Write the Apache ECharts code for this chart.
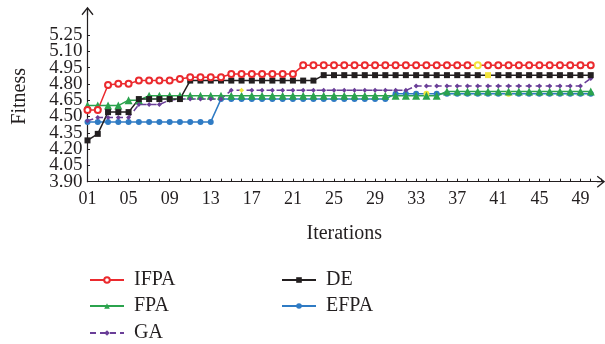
<!DOCTYPE html>
<html>
<head>
<meta charset="utf-8">
<style>
  html, body { margin: 0; padding: 0; background: #fff; }
  #chart { width: 605px; height: 344px; }
</style>
<script src="https://cdn.jsdelivr.net/npm/echarts@6/dist/echarts.min.js"></script>
</head>
<body>
<div id="chart"></div>
<script>
// iterations (51 is only there to stretch the axis out to the arrow)
var iterations = ["01","02","03","04","05","06","07","08","09","10",
  "11","12","13","14","15","16","17","18","19","20",
  "21","22","23","24","25","26","27","28","29","30",
  "31","32","33","34","35","36","37","38","39","40",
  "41","42","43","44","45","46","47","48","49","50","51"];

var yTicks = [3.90, 4.05, 4.20, 4.35, 4.50, 4.65, 4.80, 4.95, 5.10, 5.25];

var ifpa = [4.56, 4.56, 4.79, 4.80, 4.80, 4.83, 4.83, 4.83, 4.83, 4.845,
  4.86, 4.86, 4.86, 4.86, 4.89, 4.89, 4.89, 4.89, 4.89, 4.89,
  4.89, 4.97, 4.97, 4.97, 4.97, 4.97, 4.97, 4.97, 4.97, 4.97,
  4.97, 4.97, 4.97, 4.97, 4.97, 4.97, 4.97, 4.97, 4.97, 4.97,
  4.97, 4.97, 4.97, 4.97, 4.97, 4.97, 4.97, 4.97, 4.97, 4.97];

var de = [4.28, 4.34, 4.54, 4.54, 4.54, 4.66, 4.66, 4.66, 4.66, 4.66,
  4.83, 4.83, 4.83, 4.83, 4.83, 4.83, 4.83, 4.83, 4.83, 4.83,
  4.83, 4.83, 4.83, 4.88, 4.88, 4.88, 4.88, 4.88, 4.88, 4.88,
  4.88, 4.88, 4.88, 4.88, 4.88, 4.88, 4.88, 4.88, 4.88, 4.88,
  4.88, 4.88, 4.88, 4.88, 4.88, 4.88, 4.88, 4.88, 4.88, 4.88];

var fpa = [4.60, 4.60, 4.60, 4.60, 4.65, 4.65, 4.69, 4.69, 4.69, 4.69,
  4.69, 4.69, 4.69, 4.69, 4.69, 4.69, 4.69, 4.69, 4.69, 4.69,
  4.69, 4.69, 4.69, 4.69, 4.69, 4.69, 4.69, 4.69, 4.69, 4.69,
  4.69, 4.69, 4.69, 4.69, 4.69, 4.73, 4.73, 4.73, 4.73, 4.73,
  4.73, 4.73, 4.73, 4.73, 4.73, 4.73, 4.73, 4.73, 4.73, 4.73];

var efpa = [4.45, 4.45, 4.45, 4.45, 4.45, 4.45, 4.45, 4.45, 4.45, 4.45,
  4.45, 4.45, 4.45, 4.66, 4.66, 4.66, 4.66, 4.66, 4.66, 4.66,
  4.66, 4.66, 4.66, 4.66, 4.66, 4.66, 4.66, 4.66, 4.66, 4.66,
  4.71, 4.71, 4.71, 4.71, 4.71, 4.71, 4.71, 4.71, 4.71, 4.71,
  4.71, 4.71, 4.71, 4.71, 4.71, 4.71, 4.71, 4.71, 4.71, 4.71];

var ga = [4.46, 4.49, 4.49, 4.49, 4.49, 4.61, 4.61, 4.61, 4.65, 4.66,
  4.66, 4.66, 4.66, 4.66, 4.74, 4.74, 4.74, 4.74, 4.74, 4.74,
  4.74, 4.74, 4.74, 4.74, 4.74, 4.74, 4.74, 4.74, 4.74, 4.74,
  4.74, 4.74, 4.78, 4.78, 4.78, 4.78, 4.78, 4.78, 4.78, 4.78,
  4.78, 4.78, 4.78, 4.78, 4.78, 4.78, 4.78, 4.78, 4.78, 4.85];

// the few points that show up yellow in the figure (iteration numbers)
var yellowAt = { IFPA: [39], DE: [40], EFPA: [34, 42], GA: [16] };

var serif = "'Liberation Serif', 'DejaVu Serif', serif";
var ink = "#231f20";
var yellow = "#f3e53c";
var arrow = "path://M6,0 L12,7.5 L11,8.3 L6.6,2.8 L6.6,8.3 L5.4,8.3 L5.4,2.8 L1,8.3 L0,7.5 Z";

// the y labels sit closer than their own height, so echarts drops some;
// split them over two stacked axes so every one gets drawn
var yTicksEven = yTicks.filter(function (v, i) { return i % 2 === 0; });
var yTicksOdd = yTicks.filter(function (v, i) { return i % 2 === 1; });

function withYellow(name, values) {
  var marks = yellowAt[name] || [];
  return values.map(function (v, i) {
    if (marks.indexOf(i + 1) >= 0) {
      return { value: v, itemStyle: { color: yellow, borderColor: yellow } };
    }
    return v;
  });
}

function makeSeries(name, values, color, symbol, size, dashed) {
  return {
    name: name,
    type: "line",
    data: withYellow(name, values),
    symbol: symbol,
    symbolSize: size,
    showAllSymbol: true,
    lineStyle: { color: color, width: 1.5, type: dashed ? [6, 4] : "solid" },
    itemStyle: { color: color, borderColor: color, borderWidth: symbol === "emptyCircle" ? 1.4 : 0 },
    emphasis: { disabled: true },
  };
}

function legendAt(name, left, top) {
  return {
    data: [name],
    left: left,
    top: top,
    padding: 0,
    itemWidth: 34,
    itemHeight: 7,
    formatter: function (n) { return " " + n; },
    textStyle: { fontFamily: serif, fontSize: 20, color: ink },
  };
}

function yLabels(values) {
  return {
    customValues: values,
    showMinLabel: true,
    showMaxLabel: true,
    hideOverlap: false,
    margin: 5,
    fontFamily: serif,
    fontSize: 19,
    color: ink,
    formatter: function (v) { return v.toFixed(2); },
  };
}

var chart = echarts.init(document.getElementById("chart"), null, { renderer: "canvas" });

var option = {
  animation: false,
  backgroundColor: "#fff",
  grid: { left: 87.5, right: 4, top: 11, bottom: 162.3, outerBoundsMode: "none" },
  legend: [
    legendAt("IFPA", 89, 270),
    legendAt("FPA", 89, 296),
    legendAt("GA", 89, 323),
    legendAt("DE", 281, 270),
    legendAt("EFPA", 281, 296),
  ],
  xAxis: {
    type: "category",
    data: iterations,
    boundaryGap: false,
    name: "Iterations",
    nameLocation: "middle",
    nameGap: 42,
    nameTextStyle: { fontFamily: serif, fontSize: 20, color: ink },
    axisLine: {
      lineStyle: { color: ink, width: 1.2 },
      symbol: ["none", arrow],
      symbolSize: [12.6, 8.3],
    },
    axisTick: { inside: true, length: 3, interval: 0, lineStyle: { color: ink } },
    axisLabel: {
      interval: 3,
      margin: 9,
      fontFamily: serif,
      fontSize: 18,
      color: ink,
    },
    splitLine: { show: false },
  },
  yAxis: [
    {
      type: "value",
      position: "left",
      min: 3.9,
      max: 5.47,
      name: "Fitness",
      nameLocation: "middle",
      nameRotate: 90,
      nameGap: 58,
      nameTextStyle: { fontFamily: serif, fontSize: 20, color: ink },
      axisLine: {
        show: true,
        lineStyle: { color: ink, width: 1.2 },
        symbol: ["none", arrow],
        symbolSize: [12.6, 8.3],
      },
      axisTick: { show: true, inside: true, length: 2.5, customValues: yTicks, lineStyle: { color: ink } },
      axisLabel: yLabels(yTicksEven),
      splitLine: { show: false },
    },
    {
      type: "value",
      position: "left",
      offset: 0,
      min: 3.9,
      max: 5.47,
      axisLine: { show: false },
      axisTick: { show: false },
      axisLabel: yLabels(yTicksOdd),
      splitLine: { show: false },
    },
  ],
  series: [
    makeSeries("EFPA", efpa, "#2f7bc4", "circle", 6, false),
    makeSeries("FPA", fpa, "#2ba34d", "triangle", 8, false),
    makeSeries("GA", ga, "#6a3e98", "diamond", 5, true),
    makeSeries("DE", de, ink, "rect", 6, false),
    makeSeries("IFPA", ifpa, "#eb2a2e", "emptyCircle", 6, false),
  ],
};

chart.setOption(option);
</script>
</body>
</html>
